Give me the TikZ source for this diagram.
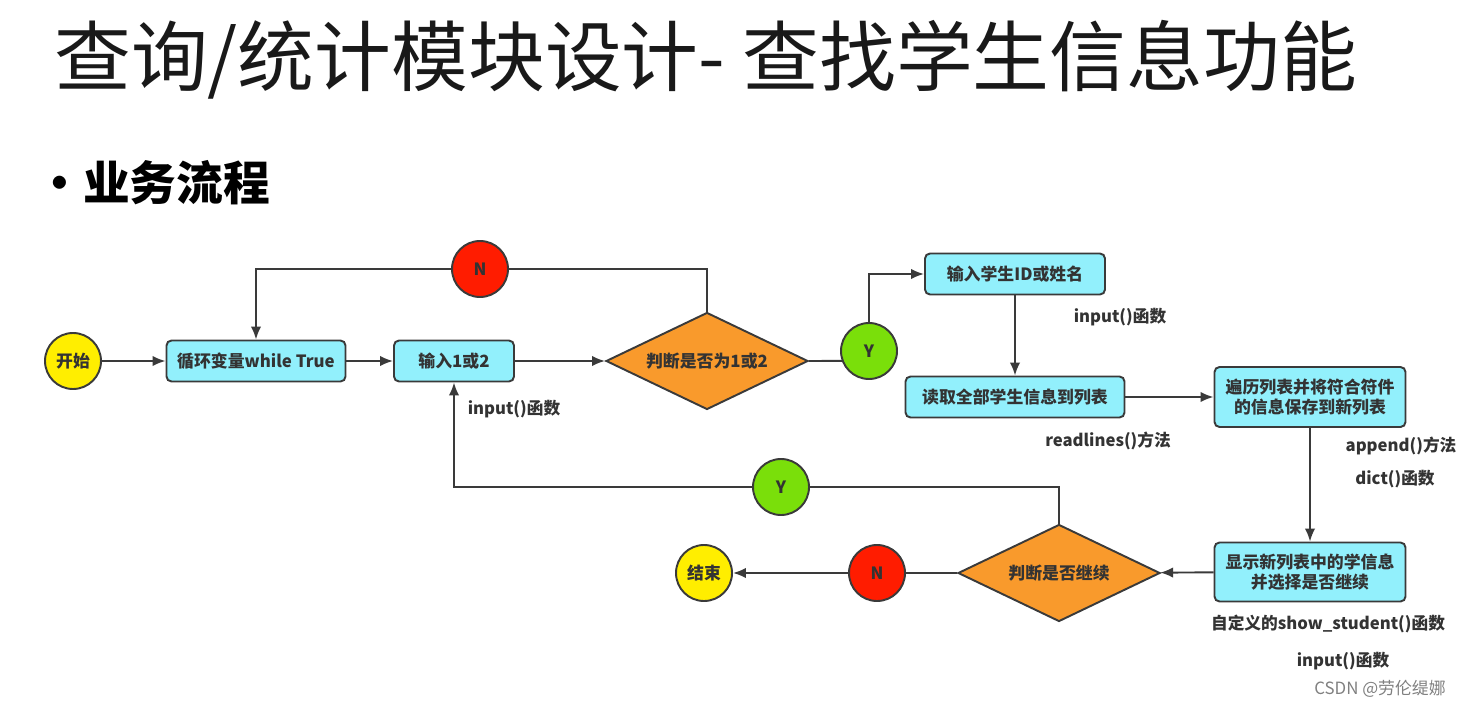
\documentclass[tikz,border=0pt]{standalone}
\usepackage{fontspec}
\setmainfont{Noto Sans CJK SC}
\usetikzlibrary{shapes.geometric,arrows.meta}
\definecolor{boxcyan}{HTML}{92F0FC}
\definecolor{condorange}{HTML}{F99A2C}
\definecolor{yesgreen}{HTML}{7ADF0A}
\definecolor{nored}{HTML}{FF1C00}
\definecolor{startyellow}{HTML}{FFEE00}
\definecolor{linegray}{HTML}{3A3A3A}
\definecolor{txtgray}{HTML}{333333}
\begin{document}
\begin{tikzpicture}[x=0.2mm,y=-0.2mm,
  >={Latex[length=2.6mm,width=2.1mm]},
  every node/.style={text=txtgray,font=\bfseries\fontsize{9.6}{11.5}\selectfont},
  procbox/.style={draw=linegray,line width=1.1pt,fill=boxcyan,rounded corners=1mm,minimum height=8.2mm,inner sep=0pt},
  decide/.style={diamond,aspect=2.06,draw=linegray,line width=1.1pt,fill=condorange,minimum width=40.4mm,minimum height=19.4mm,inner sep=0pt},
  dot/.style={circle,draw=linegray,line width=1.1pt,minimum size=11.2mm,inner sep=0pt},
  note/.style={font=\bfseries\fontsize{9.5}{11}\selectfont},
  flow/.style={draw=linegray,line width=1.1pt}]
\useasboundingbox (0,0) rectangle (1463,707);

\node[anchor=west,font=\fontsize{43.7}{50}\selectfont,text=black!90] (title) at (48,60) {查询/统计模块设计- 查找学生信息功能};
\node[anchor=west,inner sep=0pt,font=\bfseries\fontsize{26.6}{30}\selectfont,text=black] (topic) at (36,183) {•业务流程};

% upper row
\node[dot,fill=startyellow] (start) at (73,361) {开始};
\node[procbox,minimum width=35.8mm] (loop) at (256,361) {循环变量while True};
\node[procbox,minimum width=24mm] (choice) at (454,361) {输入1或2};
\node[decide] (ask) at (707,361) {判断是否为1或2};
\node[dot,fill=yesgreen] (yes1) at (869,351) {Y};
\node[dot,fill=nored] (no1) at (480,269) {N};

% right column
\node[procbox,minimum width=36mm] (inputid) at (1015,274) {输入学生ID或姓名};
\node[procbox,minimum width=43.8mm] (readall) at (1015,397) {读取全部学生信息到列表};
\node[procbox,minimum width=38.2mm,minimum height=12mm,align=center] (filter) at (1310,397) {遍历列表并将符合符件\\的信息保存到新列表};
\node[procbox,minimum width=38.2mm,minimum height=11.8mm,align=center] (show) at (1310,572) {显示新列表中的学信息\\并选择是否继续};

% lower row
\node[decide] (again) at (1059,573) {判断是否继续};
\node[dot,fill=nored] (no2) at (877,573) {N};
\node[dot,fill=startyellow] (stop) at (704,573) {结束};
\node[dot,fill=yesgreen] (yes2) at (781,487) {Y};

% notes
\node[note] (hint1) at (514,409) {input()函数};
\node[note] (hint2) at (1120,317) {input()函数};
\node[note] (hint3) at (1108,441) {readlines()方法};
\node[note] (hint4) at (1401,446) {append()方法};
\node[note] (hint5) at (1395,479) {dict()函数};
\node[note] (hint6) at (1328,624) {自定义的show\_student()函数};
\node[note] (hint7) at (1343,661) {input()函数};
\node[font=\fontsize{9.6}{11}\selectfont,text=gray] (mark) at (1380,689) {CSDN @劳伦缇娜};

% connectors
\draw[flow,->] (start) -- (loop);
\draw[flow,->] (loop) -- (choice);
\draw[flow,->] (choice) -- (ask);
\draw[flow] (ask.east) -- (yes1.200);
\draw[flow,->] (yes1.north) |- (inputid.west);
\draw[flow] (ask.north) |- (no1.east);
\draw[flow,->] (no1.west) -| (loop.north);
\draw[flow,->] (inputid) -- (readall);
\draw[flow,->] (readall) -- (filter);
\draw[flow,->] (filter) -- (show);
\draw[flow,->] (show) -- (again);
\draw[flow] (again) -- (no2);
\draw[flow,->] (no2) -- (stop);
\draw[flow] (again.north) |- (yes2.east);
\draw[flow,->] (yes2.west) -| (choice.south);
\end{tikzpicture}
\end{document}
